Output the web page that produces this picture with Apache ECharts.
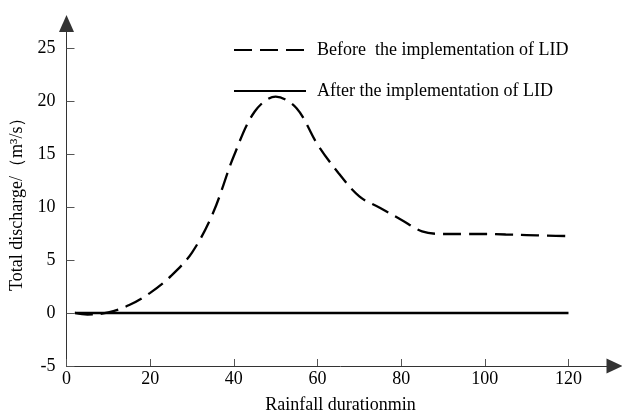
<!DOCTYPE html>
<html>
<head>
<meta charset="utf-8">
<script src="https://cdn.jsdelivr.net/npm/echarts@6/dist/echarts.min.js"></script>
<style>html,body{margin:0;padding:0;background:#fff;}#c{width:622px;height:412px;}</style>
</head>
<body>
<div id="c"></div>
<script>
const seriesNames = ['Before  the implementation of LID', 'After the implementation of LID'];
const timeBefore = [2, 5, 10, 15, 20, 25, 30, 35, 40, 45, 50, 55, 60, 65, 70, 75, 80, 85, 90, 95, 100, 105, 110, 115, 120];
const dischargeBefore = [0, -0.15, 0.05, 0.75, 1.9, 3.5, 5.7, 9.4, 14.8, 19.0, 20.4, 19.3, 15.9, 13.2, 11.0, 9.9, 8.8, 7.7, 7.45, 7.45, 7.45, 7.4, 7.35, 7.3, 7.25];
const timeAfter = [2, 120];
const dischargeAfter = [0, 0];
const xTicks = [0, 20, 40, 60, 80, 100, 120];
const yTicks = [-5, 0, 5, 10, 15, 20, 25];

const font = 'Liberation Serif, Times New Roman, serif';
const chart = echarts.init(document.getElementById('c'), null, {renderer: 'canvas'});
chart.setOption({
  animation: false,
  backgroundColor: '#fff',
  textStyle: {fontFamily: font, color: '#000'},
  grid: {left: 66.5, right: 7.5, top: 23.5, bottom: 46, containLabel: false, outerBoundsMode: 'none'},
  legend: {
    orient: 'vertical', left: 228, top: 35, itemWidth: 72, itemHeight: 14, itemGap: 21,
    data: seriesNames,
    itemStyle: {opacity: 0},
    textStyle: {fontFamily: font, fontSize: 18, color: '#000', lineHeight: 20, padding: [0, 0, 0, 6]}
  },
  xAxis: {
    type: 'value', min: 0, max: 131,
    name: 'Rainfall durationmin', nameLocation: 'middle', nameGap: 30,
    nameTextStyle: {fontFamily: font, fontSize: 18, color: '#000'},
    axisLine: {show: true, onZero: false, symbol: ['none', 'triangle'], symbolSize: [15, 16], lineStyle: {color: '#333', width: 1}},
    axisTick: {show: true, inside: true, length: 7, customValues: xTicks, lineStyle: {color: '#555'}},
    axisLabel: {customValues: xTicks, fontFamily: font, fontSize: 18, color: '#000', margin: 4},
    splitLine: {show: false}
  },
  yAxis: {
    type: 'value', min: -5, max: 27.3,
    name: 'Total discharge/（m³/s）', nameLocation: 'middle', nameGap: 31,
    nameTextStyle: {fontFamily: font, fontSize: 18, color: '#000', padding: [0, 10, 0, 0]},
    axisLine: {show: true, onZero: false, symbol: ['none', 'triangle'], symbolSize: [15, 17], lineStyle: {color: '#333', width: 1}},
    axisTick: {show: true, inside: true, length: 8, customValues: yTicks, lineStyle: {color: '#555'}},
    axisLabel: {customValues: yTicks, fontFamily: font, fontSize: 18, color: '#000', margin: 11},
    splitLine: {show: false}
  },
  series: [
    {
      name: seriesNames[0], type: 'line', smooth: 0.35, symbol: 'none',
      data: timeBefore.map((t, i) => [t, dischargeBefore[i]]),
      lineStyle: {color: '#000', width: 2.3, type: [18, 8]},
      itemStyle: {color: '#000'}
    },
    {
      name: seriesNames[1], type: 'line', symbol: 'none',
      data: timeAfter.map((t, i) => [t, dischargeAfter[i]]),
      lineStyle: {color: '#000', width: 2.5},
      itemStyle: {color: '#000'}
    }
  ]
});
</script>
</body>
</html>
